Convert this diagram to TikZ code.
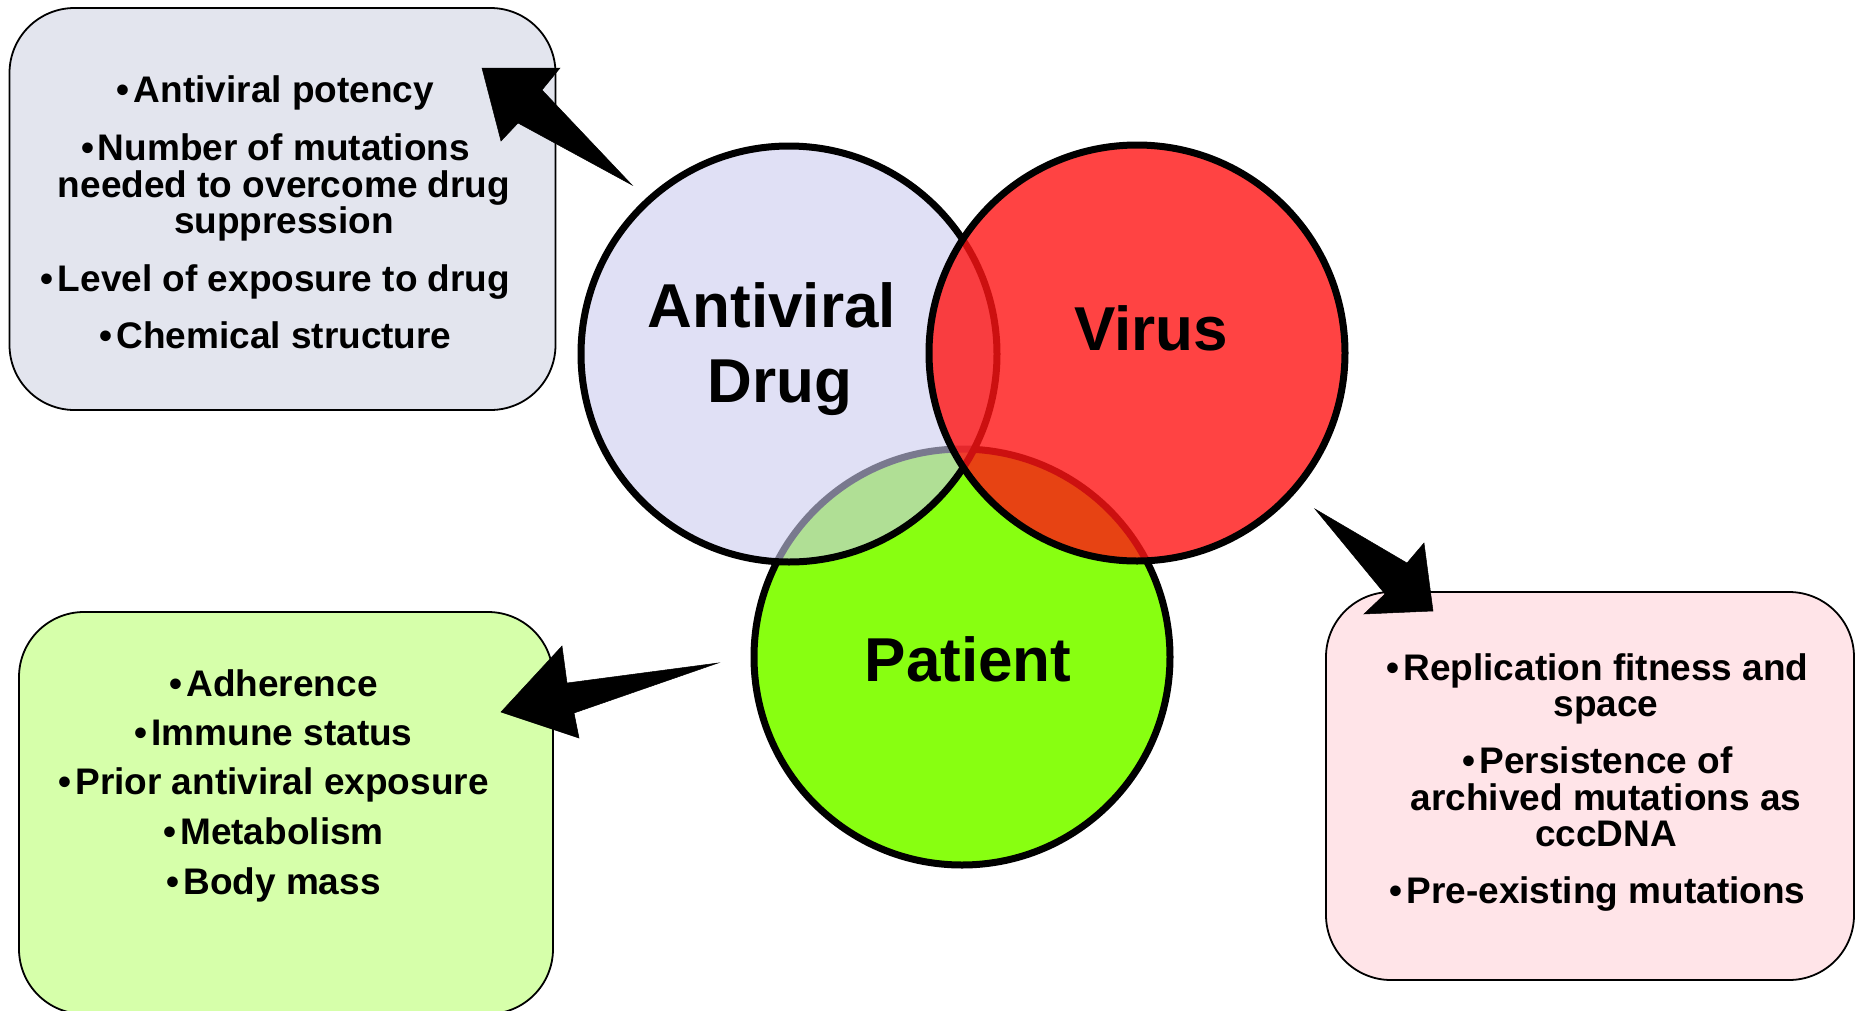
\documentclass[tikz,border=0pt]{standalone}
\usepackage{fontspec}
\setmainfont{Liberation Sans}
\definecolor{drugfill}{RGB}{203,203,238}
\definecolor{virusfill}{RGB}{255,20,20}
\definecolor{patientfill}{RGB}{136,255,17}
\definecolor{drugboxfill}{RGB}{227,229,238}
\definecolor{patientboxfill}{RGB}{214,255,170}
\definecolor{virusboxfill}{RGB}{255,228,232}
\tikzset{
  infobox/.style={rectangle, draw=black, line width=1.8pt, rounded corners=65pt, inner sep=0pt},
  vcirc/.style={circle, minimum size=416pt, inner sep=0pt, line width=7pt, draw=black},
  itemtext/.style={anchor=base, font=\fontsize{37}{36}\selectfont\bfseries, inner sep=0pt},
  biglabel/.style={anchor=base, font=\fontsize{62}{70}\selectfont\bfseries, inner sep=0pt},
  blockarrow/.style={fill=black, draw=black, line width=0.5pt, line join=miter}
}
\newcommand{\bul}{\llap{•\kern4pt}}
\begin{document}
\begin{tikzpicture}[x=1pt,y=-1pt]
\useasboundingbox (0,0) rectangle (1856,1010);
% boxes
\node[infobox, fill=drugboxfill, minimum width=546pt, minimum height=402pt] (drugbox) at (282.5,209) {};
\node[infobox, fill=patientboxfill, minimum width=534pt, minimum height=402pt] (patientbox) at (286,813) {};
\node[infobox, fill=virusboxfill, minimum width=528pt, minimum height=388pt] (virusbox) at (1590,786) {};
% circles
\node[vcirc, fill=patientfill] (patient) at (962,657) {};
\node[vcirc, fill=drugfill, fill opacity=0.6, draw opacity=1] (drug) at (789,354) {};
\node[vcirc, fill=virusfill, fill opacity=0.8, draw opacity=1] (virus) at (1137,353) {};
% circle labels
\node[biglabel] (druglabA) at (772,327) {Antiviral};
\node[biglabel] (druglabB) at (780,402) {Drug};
\node[biglabel] (viruslab) at (1151,350) {Virus};
\node[biglabel] (patientlab) at (968,681) {Patient};
% drug box text
\node[itemtext] (tl1) at (284,102) {\bul Antiviral potency};
\node[itemtext] (tl2) at (284,160) {\bul Number of mutations};
\node[itemtext] (tl3) at (284,197) {needed to overcome drug};
\node[itemtext] (tl4) at (284,233) {suppression};
\node[itemtext] (tl5) at (284,291) {\bul Level of exposure to drug};
\node[itemtext] (tl6) at (284,348) {\bul Chemical structure};
% patient box text
\node[itemtext] (bl1) at (282,696) {\bul Adherence};
\node[itemtext] (bl2) at (282,745) {\bul Immune status};
\node[itemtext] (bl3) at (282,794) {\bul Prior antiviral exposure};
\node[itemtext] (bl4) at (282,844) {\bul Metabolism};
\node[itemtext] (bl5) at (282,894) {\bul Body mass};
% virus box text
\node[itemtext] (r1) at (1606,680) {\bul Replication fitness and};
\node[itemtext] (r2) at (1606,716) {space};
\node[itemtext] (r3) at (1606,773) {\bul Persistence of};
\node[itemtext] (r4) at (1606,810) {archived mutations as};
\node[itemtext] (r5) at (1606,846) {cccDNA};
\node[itemtext] (r6) at (1606,903) {\bul Pre-existing mutations};
% block arrows
\coordinate (a1tail) at (632,185);
\coordinate (a1nA) at (542,90);
\coordinate (a1bA) at (560,68);
\coordinate (a1tip) at (482,68);
\coordinate (a1bB) at (501,141);
\coordinate (a1nB) at (518,123);
\fill[blockarrow] (a1tail) -- (a1nA) -- (a1bA) -- (a1tip) -- (a1bB) -- (a1nB) -- cycle;
\coordinate (a2tail) at (718,663);
\coordinate (a2nU) at (567,683);
\coordinate (a2bU) at (562,646);
\coordinate (a2tip) at (501,712);
\coordinate (a2bL) at (579,738);
\coordinate (a2nL) at (574,713);
\fill[blockarrow] (a2tail) -- (a2nU) -- (a2bU) -- (a2tip) -- (a2bL) -- (a2nL) -- cycle;
\coordinate (a3tail) at (1315,509);
\coordinate (a3nU) at (1407,563);
\coordinate (a3bU) at (1424,543);
\coordinate (a3tip) at (1433,611);
\coordinate (a3bL) at (1364,614);
\coordinate (a3nL) at (1385,594);
\fill[blockarrow] (a3tail) -- (a3nU) -- (a3bU) -- (a3tip) -- (a3bL) -- (a3nL) -- cycle;
\end{tikzpicture}
\end{document}
